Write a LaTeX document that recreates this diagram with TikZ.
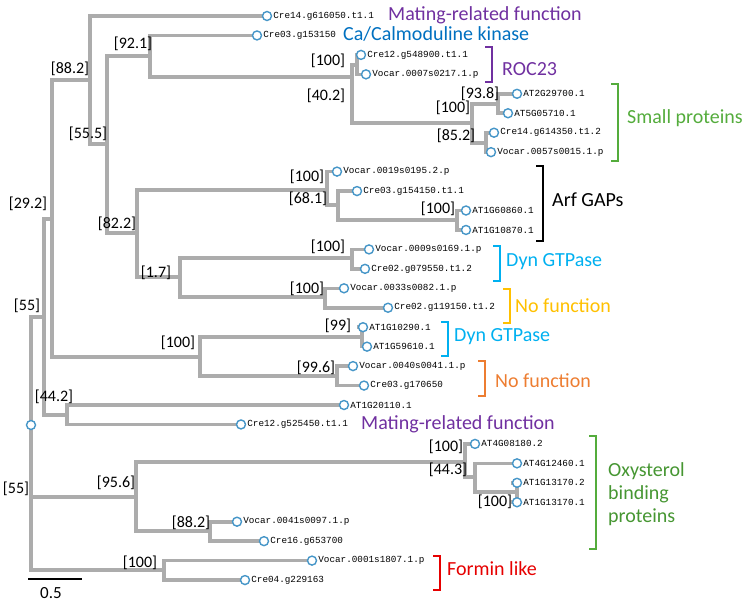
\documentclass[tikz,border=0pt]{standalone}
\usepackage{fontspec}
\setmainfont{Carlito}
\newfontfamily\leaffont{Liberation Mono}
\definecolor{brg}{RGB}{172,172,172}
\definecolor{circ}{RGB}{70,150,200}
\definecolor{cpur}{RGB}{112,48,160}
\definecolor{cblu}{RGB}{0,112,192}
\definecolor{cgrn}{RGB}{84,172,60}
\definecolor{cgrn2}{RGB}{70,150,50}
\definecolor{ccya}{RGB}{0,176,240}
\definecolor{cyel}{RGB}{255,192,0}
\definecolor{cora}{RGB}{237,125,49}
\definecolor{cred}{RGB}{230,0,0}
\begin{document}
\begin{tikzpicture}[x=1pt,y=-1pt,
  br/.style={draw=brg,line width=3.6pt,line cap=rect},
  leaf/.style={circle,draw=circ,fill=white,line width=1.4pt,minimum size=9pt,inner sep=0pt},
  lt/.style={anchor=west,font=\leaffont\fontsize{9.3}{10}\selectfont,inner sep=1pt},
  bs/.style={font=\fontsize{16}{18}\selectfont,inner sep=0pt},
  grp/.style={anchor=west,font=\fontsize{20}{22}\selectfont,inner sep=0pt},
  bk/.style={line width=2.6pt}]
\useasboundingbox (0,0) rectangle (752,603);
% internal nodes
\coordinate (R) at (31,425);
\coordinate (N55) at (44,317);
\coordinate (N292) at (52,219);
\coordinate (N882) at (90,80);
\coordinate (N555) at (107,144);
\coordinate (N921) at (150,56);
\coordinate (N402) at (352,77);
\coordinate (NROC) at (357,65);
\coordinate (NSm) at (472,123);
\coordinate (N938) at (498,104);
\coordinate (N852) at (486,143);
\coordinate (N822) at (137,233);
\coordinate (NArf) at (327,190);
\coordinate (N681) at (338,205);
\coordinate (NAT) at (457,220);
\coordinate (N17) at (180,277);
\coordinate (ND1) at (352,258);
\coordinate (NNF) at (325,297);
\coordinate (ND2) at (200,357);
\coordinate (N99) at (362,337);
\coordinate (N996) at (337,376);
\coordinate (N442) at (67,415);
\coordinate (N956) at (136,497);
\coordinate (NOxy) at (465,462);
\coordinate (N443) at (475,477);
\coordinate (NC) at (517,492);
\coordinate (N882b) at (210,531);
\coordinate (NFor) at (164,570);
% tree branches
\foreach \p/\c in {R/N55,R/N956,R/NFor,N55/N292,N55/N442,N292/N882,N292/ND2,N882/N555,
  N555/N921,N555/N822,N921/N402,N402/NROC,N402/NSm,NSm/N938,NSm/N852,N822/NArf,N822/N17,
  NArf/N681,N681/NAT,N17/ND1,N17/NNF,ND2/N99,ND2/N996,N956/NOxy,NOxy/N443,N443/NC,N956/N882b}
  \draw[br] (\p) |- (\c);
% leaves
\foreach \n/\x/\t/\p in {
 1/267/Cre14.g616050.t1.1/N882, 2/257/Cre03.g153150/N921,
 3/361/Cre12.g548900.t1.1/NROC, 4/366/Vocar.0007s0217.1.p/NROC,
 5/517/AT2G29700.1/N938, 6/508/AT5G05710.1/N938,
 7/494/Cre14.g614350.t1.2/N852, 8/491/Vocar.0057s0015.1.p/N852,
 9/337/Vocar.0019s0195.2.p/NArf, 10/357/Cre03.g154150.t1.1/N681,
 11/466/AT1G60860.1/NAT, 12/466/AT1G10870.1/NAT,
 13/369/Vocar.0009s0169.1.p/ND1, 14/365/Cre02.g079550.t1.2/ND1,
 15/344/Vocar.0033s0082.1.p/NNF, 16/388/Cre02.g119150.t1.2/NNF,
 17/363/AT1G10290.1/N99, 18/367/AT1G59610.1/N99,
 19/353/Vocar.0040s0041.1.p/N996, 20/364/Cre03.g170650/N996,
 21/344/AT1G20110.1/N442, 22/241/Cre12.g525450.t1.1/N442,
 23/475/AT4G08180.2/NOxy, 24/517/AT4G12460.1/N443,
 25/517/AT1G13170.2/NC, 26/517/AT1G13170.1/NC,
 27/237/Vocar.0041s0097.1.p/N882b, 28/264/Cre16.g653700/N882b,
 29/312/Vocar.0001s1807.1.p/NFor, 30/245/Cre04.g229163/NFor}
{
  \draw[br] (\p) |- (\x-4,{16+(\n-1)*19.45});
  \node[leaf] (L\n) at (\x,{16+(\n-1)*19.45}) {};
  \node[lt] (T\n) at (L\n.east) {\t};
}
\node[leaf] (Root) at (R) {};
% bootstrap values
\foreach \x/\y/\t in {70/69/[88.2],133/44/[92.1],88/134/[55.5],328/61/[100],326/96/[40.2],
 28/204/[29.2],117/224/[82.2],307/177/[100],308/199/[68.1],156/273/[1.7],328/247/[100],
 307/289/[100],480/94/[93.8],453/108/[100],456/136/[85.2],438/209/[100],27/306/[55],
 338/326/[99],178/343/[100],316/368/[99.6],54/397/[44.2],16/489/[55],116/483/[95.6],
 191/523/[88.2],140/563/[100],446/447/[100],448/470/[44.3],495/502/[100]}
  \node[bs] at (\x,\y) {\t};
% group brackets and labels
\node[grp,text=cpur] (g1) at (388,15) {Mating-related function};
\node[grp,text=cblu] (g2) at (343,34) {Ca/Calmoduline kinase};
\draw[bk,cpur] (485,47) -- (492,47) -- (492,82) -- (485,82);
\node[grp,text=cpur] (g3) at (502,69) {ROC23};
\draw[bk,cgrn] (611,84) -- (618,84) -- (618,161) -- (611,161);
\node[grp,text=cgrn] (g4) at (627,118) {Small proteins};
\draw[bk,black] (536,166) -- (543,166) -- (543,241) -- (536,241);
\node[grp,text=black] (g5) at (552,200) {Arf GAPs};
\draw[bk,ccya] (493,246) -- (500,246) -- (500,281) -- (493,281);
\node[grp,text=ccya] (g6) at (506,262) {Dyn GTPase};
\draw[bk,cyel] (503,289) -- (510,289) -- (510,323) -- (503,323);
\node[grp,text=cyel] (g7) at (515,306) {No function};
\draw[bk,ccya] (441,322) -- (448,322) -- (448,356) -- (441,356);
\node[grp,text=ccya] (g8) at (454,337) {Dyn GTPase};
\draw[bk,cora] (478,361) -- (485,361) -- (485,396) -- (478,396);
\node[grp,text=cora] (g9) at (495,381) {No function};
\node[grp,text=cpur] (g10) at (361,424) {Mating-related function};
\draw[bk,cgrn] (589,436) -- (596,436) -- (596,549) -- (589,549);
\node[grp,text=cgrn2,align=left] (g11) at (608,494) {Oxysterol\\[1pt]binding\\[1pt]proteins};
\draw[bk,cred] (433,556) -- (440,556) -- (440,590) -- (433,590);
\node[grp,text=cred] (g12) at (447,569) {Formin like};
% scale bar
\draw[line width=2pt] (28,579) coordinate (s1) -- (82,579) coordinate (s2);
\node[font=\fontsize{17}{19}\selectfont,inner sep=0pt] (sc) at (51,593) {0.5};
\end{tikzpicture}
\end{document}
